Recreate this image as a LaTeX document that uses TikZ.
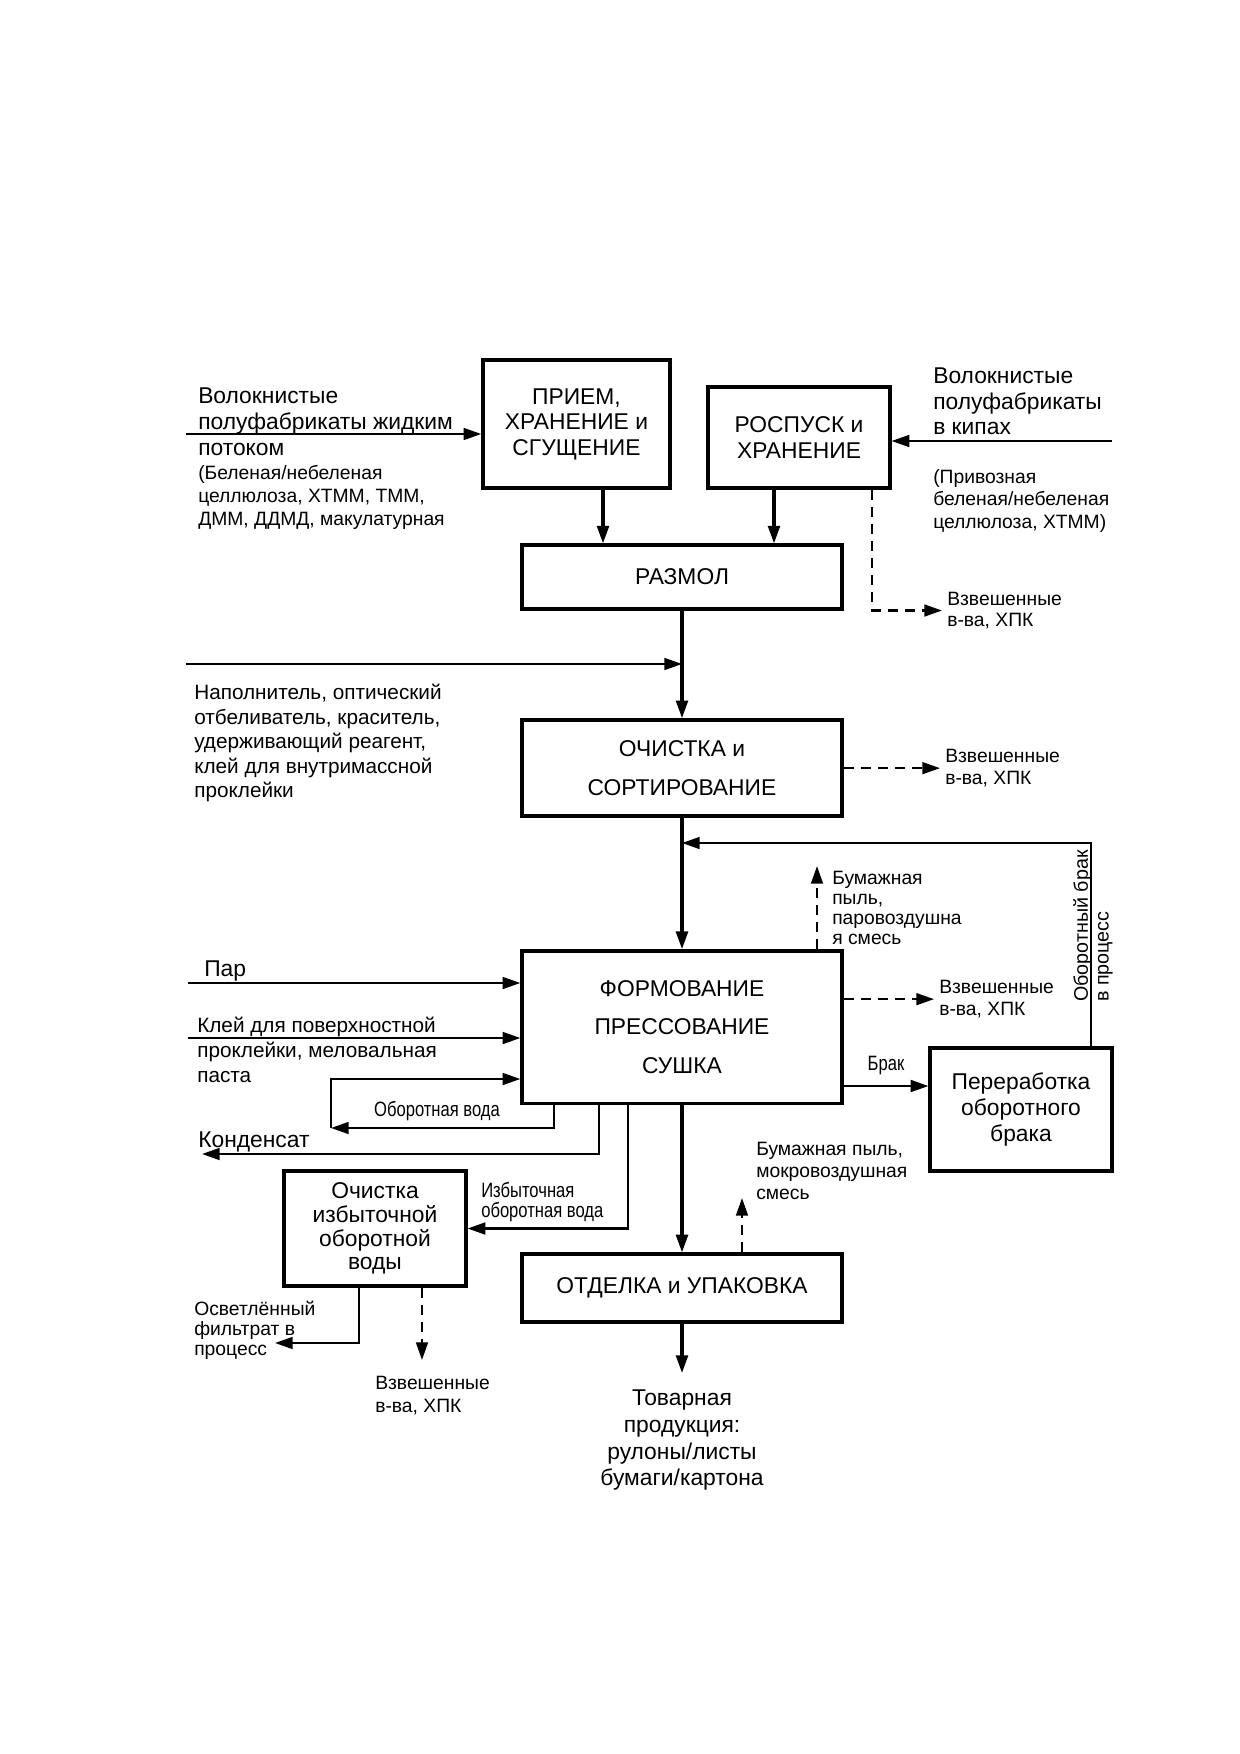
\documentclass[tikz,border=0pt]{standalone}
\usepackage{fontspec}
\setmainfont{Liberation Sans}
\newfontfamily\narrowfont{Liberation Sans}[FakeStretch=0.8]
\usetikzlibrary{arrows.meta}

\begin{document}
\begin{tikzpicture}[->, x=0.1694mm, y=-0.1694mm, line width=1.1pt,
  >={Triangle[length=3mm,width=2mm]}]
\tikzstyle{blok}=[draw, line width=1.6pt, align=center, inner sep=0pt, font=\fontsize{11}{12.3}\selectfont]
\tikzstyle{lbl}=[align=left, inner sep=0.7mm, anchor=north west, font=\fontsize{11}{12.4}\selectfont]
\tikzstyle{sml}=[lbl, font=\fontsize{9.3}{10.6}\selectfont]
\tikzstyle{nrw}=[inner sep=0.7mm, align=left, font=\narrowfont\fontsize{10}{9.8}\selectfont]
\tikzstyle{dsh}=[->, dash pattern=on 1.7mm off 1.2mm]
\tikzstyle{glav}=[->, line width=1.5pt]

\useasboundingbox (0,0) rectangle (1240,1754);

\node[blok, minimum width=31.7mm, minimum height=21.7mm] (priem) at (576.5,424) {ПРИЕМ,\\ХРАНЕНИЕ и\\СГУЩЕНИЕ};
\node[blok, minimum width=30.8mm, minimum height=17.1mm] (rosp) at (799,437.5) {РОСПУСК и\\ХРАНЕНИЕ};
\node[blok, minimum width=54.2mm, minimum height=10.8mm] (razmol) at (682,577) {РАЗМОЛ};
\node[blok, minimum width=54.2mm, minimum height=16.3mm, font=\fontsize{11}{18.7}\selectfont] (ochist) at (682,768) {ОЧИСТКА и\\СОРТИРОВАНИЕ};
\node[blok, minimum width=54.2mm, minimum height=25.8mm, font=\fontsize{11}{18.6}\selectfont] (form) at (682,1027) {ФОРМОВАНИЕ\\ПРЕССОВАНИЕ\\СУШКА};
\node[blok, minimum width=30.8mm, minimum height=20.8mm, font=\fontsize{11}{12.5}\selectfont] (perer) at (1021,1109.5) {Переработка\\оборотного\\брака};
\node[blok, minimum width=30.8mm, minimum height=19.5mm, font=\fontsize{11}{11.4}\selectfont] (ochvod) at (375,1228.5) {Очистка\\избыточной\\оборотной\\воды};
\node[blok, minimum width=54.2mm, minimum height=11.5mm] (otdel) at (682,1288) {ОТДЕЛКА и УПАКОВКА};

\node[lbl] (tA) at (193,383) {Волокнистые\\полуфабрикаты жидким\\потоком};
\node[sml, font=\fontsize{9.3}{11}\selectfont] (tA2) at (193,460) {(Беленая/небеленая\\целлюлоза, ХТММ, ТММ,\\ДММ, ДДМД, макулатурная};
\node[lbl, font=\fontsize{11}{12.2}\selectfont] (tB) at (928,363) {Волокнистые\\полуфабрикаты\\в кипах};
\node[sml, font=\fontsize{9.3}{10.8}\selectfont] (tB2) at (928,464) {(Привозная\\беленая/небеленая\\целлюлоза, ХТММ)};
\node[sml, font=\fontsize{9.3}{10}\selectfont] (vzv1) at (942,587) {Взвешенные\\в-ва, ХПК};
\node[lbl, font=\fontsize{10}{11.8}\selectfont] (tC) at (189,679) {Наполнитель, оптический\\отбеливатель, краситель,\\удерживающий реагент,\\клей для внутримассной\\проклейки};
\node[sml] (vzv2) at (940,744) {Взвешенные\\в-ва, ХПК};
\node[sml, font=\fontsize{9.3}{9.6}\selectfont] (pyl1) at (827,866) {Бумажная\\пыль,\\паровоздушна\\я смесь};
\node[sml] (vzv3) at (934,975) {Взвешенные\\в-ва, ХПК};
\node[sml, rotate=90, font=\fontsize{9.5}{10}\selectfont] (rot) at (1068,1007) {Оборотный брак\\в процесс};
\node[lbl] (par) at (199,956) {Пар};
\node[lbl, font=\fontsize{10}{12}\selectfont] (klei) at (192,1012) {Клей для поверхностной\\проклейки, меловальная\\паста};
\node[nrw] (obv) at (437,1111) {Оборотная вода};
\node[lbl] (kond) at (193,1127) {Конденсат};
\node[nrw, anchor=north west] (izb) at (476,1177) {Избыточная\\оборотная вода};
\node[sml, font=\fontsize{9.3}{10.6}\selectfont] (pyl2) at (751,1137) {Бумажная пыль,\\мокровоздушная\\смесь};
\node[sml, font=\fontsize{9.3}{9.6}\selectfont] (osv) at (189,1296) {Осветлённый\\фильтрат в\\процесс};
\node[sml, font=\fontsize{9.3}{11}\selectfont] (vzv4) at (370,1371) {Взвешенные\\в-ва, ХПК};
\node[lbl, anchor=north, align=center, font=\fontsize{11}{12.8}\selectfont] (tov) at (682,1385) {Товарная\\продукция:\\рулоны/листы\\бумаги/картона};

\coordinate (srcA) at (186,434);
\coordinate (srcB) at (1112,441);
\coordinate (srcC) at (186,664);
\coordinate (srcD) at (188,983);
\coordinate (srcE) at (188,1038);
\coordinate (xa) at (603,0);
\coordinate (xb) at (774,0);
\coordinate (xd) at (872,0);
\coordinate (ret) at (682,843);
\coordinate (xr) at (1091,0);
\coordinate (pylA) at (817,866);
\coordinate (pylB) at (742,1198);
\coordinate (brk) at (0,1086);
\coordinate (lpA) at (331,1128);
\coordinate (lpB) at (331,1079);
\coordinate (xl) at (554,0);
\coordinate (kondA) at (202,1154);
\coordinate (xk) at (599,0);
\coordinate (xi) at (628,0);
\coordinate (osvA) at (275,1343);
\coordinate (xo) at (359,0);
\coordinate (vzvA) at (422,1360);
\coordinate (tovA) at (682,1373);

\draw (srcA) -- (srcA -| priem.west);
\draw (srcB) -- (srcB -| rosp.east);
\draw[glav] (priem.south -| xa) -- (razmol.north -| xa);
\draw[glav] (rosp.south -| xb) -- (razmol.north -| xb);
\draw[dsh] (rosp.south -| xd) |- (vzv1.west);
\draw[glav] (razmol.south) -- (ochist.north);
\draw (srcC) -- (srcC -| razmol.south);
\draw[dsh] (ochist.east |- vzv2.west) -- (vzv2.west);
\draw[glav] (ochist.south) -- (form.north);
\draw (perer.north -| xr) |- (ret);
\draw[dsh] (form.north -| pylA) -- (pylA);
\draw[dsh] (form.east |- vzv3.west) -- (vzv3.west);
\draw (form.east |- brk) -- node[nrw, above=1mm] {Брак} (perer.west |- brk);
\foreach \s in {srcD,srcE}
\draw (\s) -- (\s -| form.west);
\draw (form.south -| xl) |- (lpA);
\draw (lpA) -- (lpB) -- (form.west |- lpB);
\draw (form.south -| xk) |- (kondA);
\draw (form.south -| xi) |- (ochvod.east);
\draw[glav] (form.south) -- (otdel.north);
\draw[dsh] (otdel.north -| pylB) -- (pylB);
\draw[glav] (otdel.south) -- (tovA);
\draw (ochvod.south -| xo) |- (osvA);
\draw[dsh] (ochvod.south -| vzvA) -- (vzvA);
\end{tikzpicture}
\end{document}
